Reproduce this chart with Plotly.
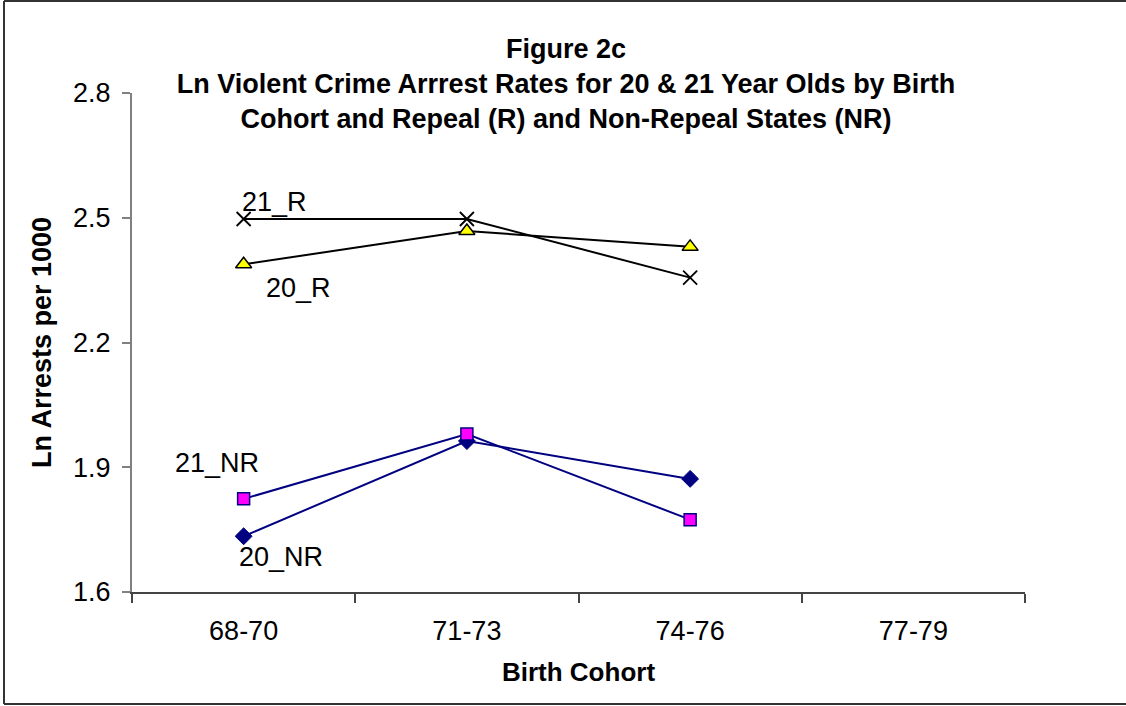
import plotly.graph_objects as go

cohorts = ["68-70", "71-73", "74-76", "77-79"]
plotted = ["68-70", "71-73", "74-76"]
r21 = [2.497, 2.497, 2.356]
r20 = [2.388, 2.468, 2.430]
nr21 = [1.824, 1.980, 1.774]
nr20 = [1.734, 1.963, 1.872]
y_ticks = [1.6, 1.9, 2.2, 2.5, 2.8]

FONT = "Liberation Sans, Arial, sans-serif"
NAVY = "#000080"

fig = go.Figure()
fig.add_trace(go.Scatter(x=plotted, y=r21, mode="lines+markers", name="21_R",
                         line=dict(color="black", width=2),
                         marker=dict(symbol="x-thin", size=14, line=dict(color="black", width=1.8))))
fig.add_trace(go.Scatter(x=plotted, y=r20, mode="lines+markers", name="20_R",
                         line=dict(color="black", width=2),
                         marker=dict(symbol="triangle-up", size=14, color="#FFFF00",
                                     line=dict(color="black", width=1.5))))
fig.add_trace(go.Scatter(x=plotted, y=nr20, mode="lines+markers", name="20_NR",
                         line=dict(color=NAVY, width=2),
                         marker=dict(symbol="diamond", size=13, color=NAVY,
                                     line=dict(color=NAVY, width=1))))
fig.add_trace(go.Scatter(x=plotted, y=nr21, mode="lines+markers", name="21_NR",
                         line=dict(color=NAVY, width=2),
                         marker=dict(symbol="square", size=12, color="#FF00FF",
                                     line=dict(color=NAVY, width=1.5))))

labels = [("21_R", "68-70", 2.537, 31), ("20_R", "68-70", 2.330, 55),
          ("21_NR", "68-70", 1.9095, -27), ("20_NR", "68-70", 1.684, 37)]
for txt, xc, yv, xs in labels:
    fig.add_annotation(x=xc, y=yv, text=txt, showarrow=False, xshift=xs,
                       font=dict(family=FONT, size=27, color="black"))

L, R, T, B = 132, 101, 93, 114
W, H = 1126, 706
pw, ph = W - L - R, H - T - B

bx0 = (4 - L) / pw
bx1 = (W + 60 - L) / pw
by0 = (H - B - 704) / ph
by1 = (H - B - 1) / ph
for seg in [(bx0, by0, bx0, by1), (bx0, by1, bx1, by1), (bx0, by0, bx1, by0)]:
    fig.add_shape(type="line", xref="paper", yref="paper",
                  x0=seg[0], y0=seg[1], x1=seg[2], y1=seg[3],
                  line=dict(color="#333333", width=2), layer="below")

fig.update_layout(
    width=W, height=H,
    margin=dict(l=L, r=R, t=T, b=B, pad=0),
    plot_bgcolor="white", paper_bgcolor="white",
    showlegend=False,
    title=dict(text="Figure 2c<br>Ln Violent Crime Arrrest Rates for 20 & 21 Year Olds by Birth<br>Cohort and Repeal (R) and Non-Repeal States (NR)",
               x=566 / W, xanchor="center", y=1 - 58 / H, yanchor="middle", yref="container",
               font=dict(family=FONT, size=27, color="black", weight="bold")),
    xaxis=dict(type="category", categoryorder="array", categoryarray=cohorts,
               tickvals=cohorts, ticktext=cohorts, range=[-0.5, 3.5],
               tickson="boundaries", ticks="outside", ticklen=9, tickwidth=1.5, tickcolor="#444444",
               showline=True, linecolor="#444444", linewidth=1.5, showgrid=False, zeroline=False,
               ticklabelstandoff=14,
               tickfont=dict(family=FONT, size=27, color="black"),
               title=dict(text="Birth Cohort", standoff=18,
                          font=dict(family=FONT, size=26, color="black", weight="bold"))),
    yaxis=dict(range=[1.6, 2.8], tickvals=y_ticks, ticktext=[f"{v:.1f}" for v in y_ticks],
               ticks="outside", ticklen=8, tickwidth=1.5, tickcolor="#808080",
               showline=True, linecolor="#808080", linewidth=2, showgrid=False, zeroline=False,
               ticklabelstandoff=6,
               tickfont=dict(family=FONT, size=27, color="black"),
               title=dict(text="Ln Arrests per 1000", standoff=14,
                          font=dict(family=FONT, size=27, color="black", weight="bold"))),
)

fig.write_html("out.html", config={"displayModeBar": False},
               post_script="document.body.style.margin='0px';document.body.style.overflow='hidden';")
